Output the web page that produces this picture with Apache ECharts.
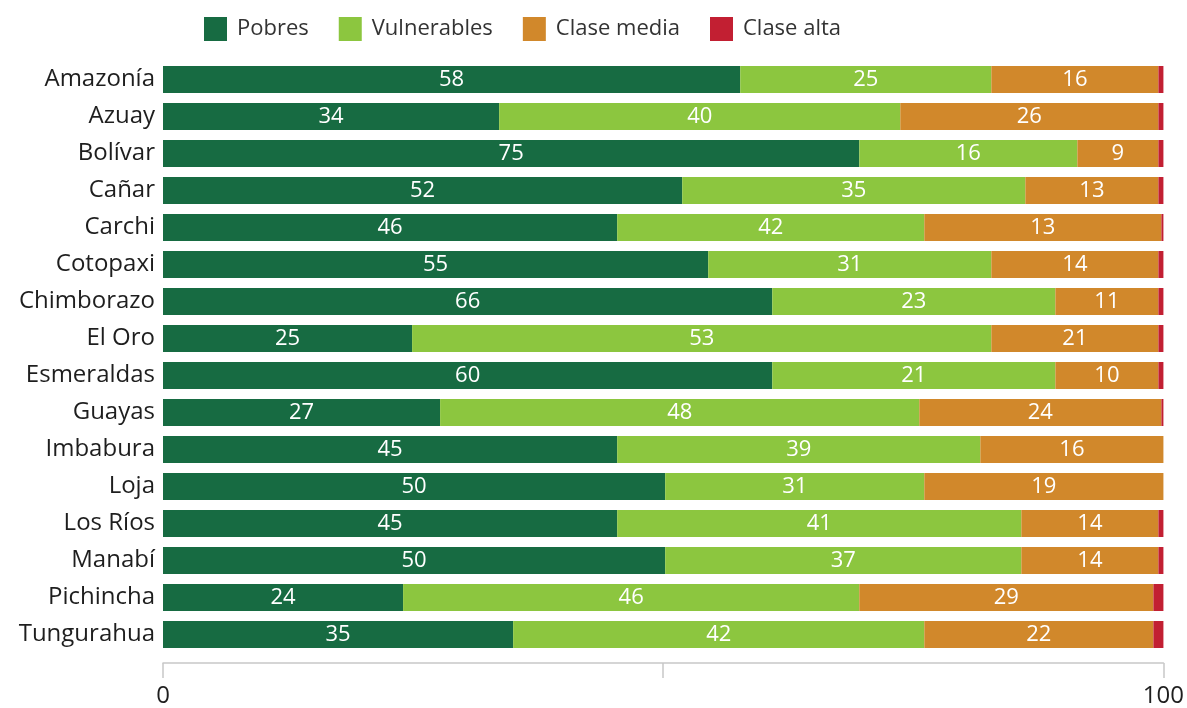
<!DOCTYPE html>
<html lang="es">
<head>
    <meta charset="UTF-8">
    <title>Estratos por provincia</title>
    <script src="https://cdn.jsdelivr.net/npm/echarts@6/dist/echarts.min.js"></script>
</head>
<style>
    *{
        margin: 0;
        padding: 0;
    }
    html,body{
        width: 100%;
        height: 100%;
        overflow: hidden;
        background: #fff;
    }
    .container{
        width: 1187px;
        height: 708px;
    }
</style>
<body>
<div class="container"></div>
<script>
    // provincias, de arriba hacia abajo
    const categories = ['Amazonía','Azuay','Bolívar','Cañar','Carchi','Cotopaxi','Chimborazo','El Oro',
        'Esmeraldas','Guayas','Imbabura','Loja','Los Ríos','Manabí','Pichincha','Tungurahua'];

    const pobres       = [57.7,33.6,69.6,51.9,45.4,54.5,60.9,24.9,60.9,27.7,45.4,50.2,45.4,50.2,24.0,35.0];
    const vulnerables  = [25.1,40.1,21.8,34.3,30.7,28.3,28.3,57.9,28.3,47.9,36.3,25.9,40.4,35.6,45.6,41.1];
    const claseMedia   = [16.7,25.8,8.1,13.3,23.7,16.7,10.3,16.7,10.3,24.2,18.3,23.9,13.7,13.7,29.4,22.9];
    const claseAlta    = [0.5,0.5,0.5,0.5,0.2,0.5,0.5,0.5,0.5,0.2,0,0,0.5,0.5,1.0,1.0];

    // cifras impresas dentro de las barras
    const pobresLabels      = [58,34,75,52,46,55,66,25,60,27,45,50,45,50,24,35];
    const vulnerablesLabels = [25,40,16,35,42,31,23,53,21,48,39,31,41,37,46,42];
    const claseMediaLabels  = [16,26,9,13,13,14,11,21,10,24,16,19,14,14,29,22];

    const xTicks = [0, 100];

    const font = '"Open Sans", "Noto Sans", sans-serif';

    function makeSeries(name, data, color, labels){
        return {
            name: name,
            type: 'bar',
            stack: 'total',
            barWidth: 27,
            data: data,
            itemStyle: {color: color},
            label: {
                show: !!labels,
                position: 'inside',
                color: '#fff',
                fontSize: 22,
                fontWeight: 500,
                fontFamily: font,
                formatter: function (p) {
                    return labels ? labels[p.dataIndex] : '';
                }
            }
        };
    }

    let container = document.querySelector('.container');
    let mycharts = echarts.init(container);

    let options = {
        animation: false,
        legend: {
            left: 199,
            top: 12,
            itemWidth: 23,
            itemHeight: 24,
            itemGap: 30,
            icon: 'rect',
            textStyle: {
                fontSize: 22,
                fontFamily: font,
                color: '#333',
                padding: [0, 0, 0, 5]
            },
            data: ['Pobres', 'Vulnerables', 'Clase media', 'Clase alta']
        },
        grid: {
            left: 163,
            right: 23,
            top: 61,
            bottom: 53
        },
        xAxis: {
            type: 'value',
            min: 0,
            max: 100,
            interval: 50,
            offset: 10,
            splitLine: {show: false},
            axisLine: {show: true, lineStyle: {color: '#c8c8c8', width: 1.5}},
            axisTick: {show: true, length: 15, lineStyle: {color: '#c8c8c8', width: 1.5}},
            axisLabel: {
                fontSize: 24,
                fontFamily: font,
                color: '#1e1e1e',
                margin: 21,
                formatter: function (v) {
                    return xTicks.indexOf(v) >= 0 ? String(v) : '';
                }
            }
        },
        yAxis: {
            type: 'category',
            inverse: true,
            data: categories,
            axisLine: {show: false},
            axisTick: {show: false},
            axisLabel: {
                fontSize: 24,
                fontWeight: 500,
                fontFamily: font,
                color: '#1e1e1e',
                margin: 8
            }
        },
        series: [
            makeSeries('Pobres', pobres, '#176b42', pobresLabels),
            makeSeries('Vulnerables', vulnerables, '#8cc63f', vulnerablesLabels),
            makeSeries('Clase media', claseMedia, '#d1882b', claseMediaLabels),
            makeSeries('Clase alta', claseAlta, '#c21f32', null)
        ]
    };

    mycharts.setOption(options);
</script>
</body>
</html>
